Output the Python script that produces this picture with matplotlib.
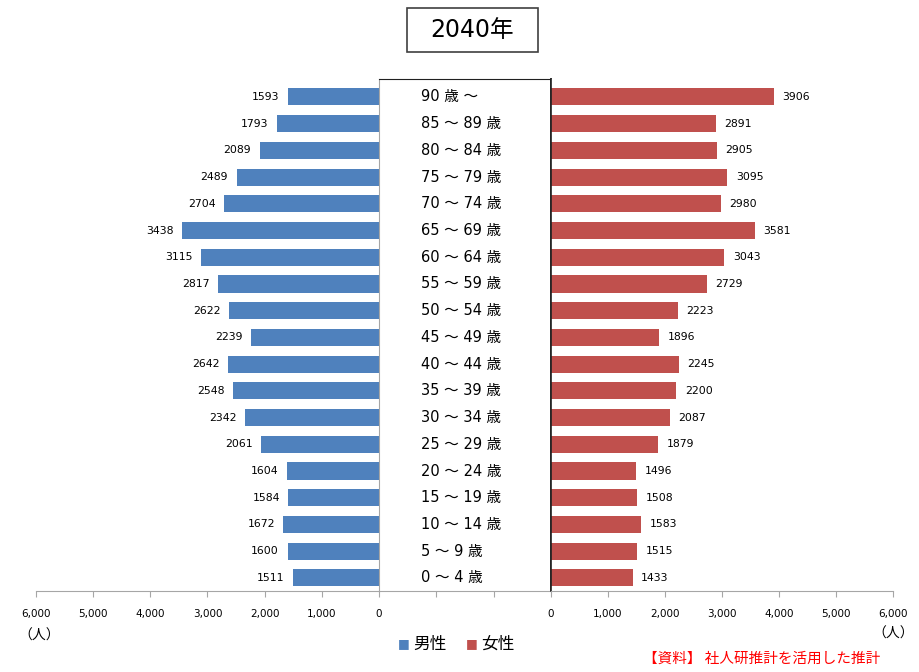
import matplotlib.pyplot as plt
import numpy as np
from matplotlib.patches import Rectangle

plt.rcParams['font.family'] = ['DejaVu Sans', 'Noto Sans CJK JP']

# データ(上から 90歳~ ... 0~4歳)
ages = ['90 歳 ～', '85 ～ 89 歳', '80 ～ 84 歳', '75 ～ 79 歳', '70 ～ 74 歳',
        '65 ～ 69 歳', '60 ～ 64 歳', '55 ～ 59 歳', '50 ～ 54 歳', '45 ～ 49 歳',
        '40 ～ 44 歳', '35 ～ 39 歳', '30 ～ 34 歳', '25 ～ 29 歳', '20 ～ 24 歳',
        '15 ～ 19 歳', '10 ～ 14 歳', '5 ～ 9 歳', '0 ～ 4 歳']
male = [1593, 1793, 2089, 2489, 2704, 3438, 3115, 2817, 2622, 2239,
        2642, 2548, 2342, 2061, 1604, 1584, 1672, 1600, 1511]
female = [3906, 2891, 2905, 3095, 2980, 3581, 3043, 2729, 2223, 1896,
          2245, 2200, 2087, 1879, 1496, 1508, 1583, 1515, 1433]
x_ticks = [0, 1000, 2000, 3000, 4000, 5000, 6000]
x_ticklabels = ['0', '1,000', '2,000', '3,000', '4,000', '5,000', '6,000']

BLUE = '#4F81BD'
RED = '#C0504D'
GRAY = '#A6A6A6'
CJK = ['Noto Sans CJK JP', 'DejaVu Sans']

n = len(ages)
y = np.arange(n)[::-1]  # 0~4歳が一番下
Y_LIM = (-0.49, n - 1 + 0.67)

fig = plt.figure(figsize=(9.2, 6.72), dpi=100)
bottom = 1 - 591 / 672
height = (591 - 79) / 672

ax_l = fig.add_axes([36 / 920, bottom, 343 / 920, height])
ax_c = fig.add_axes([379 / 920, bottom, 172 / 920, height])
ax_r = fig.add_axes([551 / 920, bottom, 342 / 920, height])

# 男性
ax_l.barh(y, male, height=0.64, color=BLUE)
ax_l.set_xlim(6000, 0)
for yi, v in zip(y, male):
    ax_l.text(v + 150, yi, str(v), ha='right', va='center', fontsize=7.8)

# 女性
ax_r.barh(y, female, height=0.64, color=RED)
ax_r.set_xlim(0, 6000)
for yi, v in zip(y, female):
    ax_r.text(v + 150, yi, str(v), ha='left', va='center', fontsize=7.8)

for ax in (ax_l, ax_r):
    ax.set_ylim(*Y_LIM)
    ax.set_yticks([])
    ax.set_xticks(x_ticks)
    ax.set_xticklabels(x_ticklabels)
    ax.tick_params(axis='x', direction='out', length=4, color=GRAY,
                   labelsize=7.5, pad=9)
    for s in ('top', 'left', 'right'):
        ax.spines[s].set_visible(False)
    ax.spines['bottom'].set_color(GRAY)

ax_r.spines['left'].set_visible(True)
ax_r.spines['left'].set_color('#202020')
ax_r.spines['left'].set_linewidth(1.2)

# 中央の年齢ラベル
ax_c.set_xlim(0, 3)
ax_c.set_ylim(*Y_LIM)
ax_c.set_yticks([])
ax_c.set_xticks([1, 2])
ax_c.set_xticklabels([])
ax_c.tick_params(axis='x', direction='out', length=4, color=GRAY)
ax_c.spines['bottom'].set_color(GRAY)
ax_c.spines['left'].set_color(GRAY)
ax_c.spines['top'].set_color('#202020')
ax_c.spines['right'].set_color('#202020')
ax_c.spines['right'].set_linewidth(1.2)
for yi, lab in zip(y, ages):
    ax_c.text(42 / 172 * 3, yi, lab, ha='left', va='center', fontsize=10.5)

# タイトル
fig.patches.append(Rectangle((407 / 920, 1 - 52 / 672), 131 / 920, 44 / 672,
                             transform=fig.transFigure, facecolor='white',
                             edgecolor='#404040', linewidth=1.2))
fig.text(472 / 920, 1 - 30 / 672, '2040年', ha='center', va='center', fontsize=17)

# 単位
fig.text(18 / 920, 1 - 636 / 672, '（人）', family=CJK, ha='left', va='center', fontsize=10)
fig.text(914 / 920, 1 - 634 / 672, '（人）', family=CJK, ha='right', va='center', fontsize=10)

# 凡例
fig.text(398 / 920, 1 - 644 / 672, '■', color=BLUE, ha='left', va='center', fontsize=9)
fig.text(413 / 920, 1 - 644 / 672, '男性', family=CJK, ha='left', va='center', fontsize=12)
fig.text(466 / 920, 1 - 644 / 672, '■', color=RED, ha='left', va='center', fontsize=9)
fig.text(481 / 920, 1 - 644 / 672, '女性', family=CJK, ha='left', va='center', fontsize=12)

# 資料
fig.text(880 / 920, 1 - 659 / 672, '【資料】 社人研推計を活用した推計', family=CJK,
         color='#FF0000', ha='right', va='center', fontsize=10.5)

plt.savefig('out.png', dpi=100)
